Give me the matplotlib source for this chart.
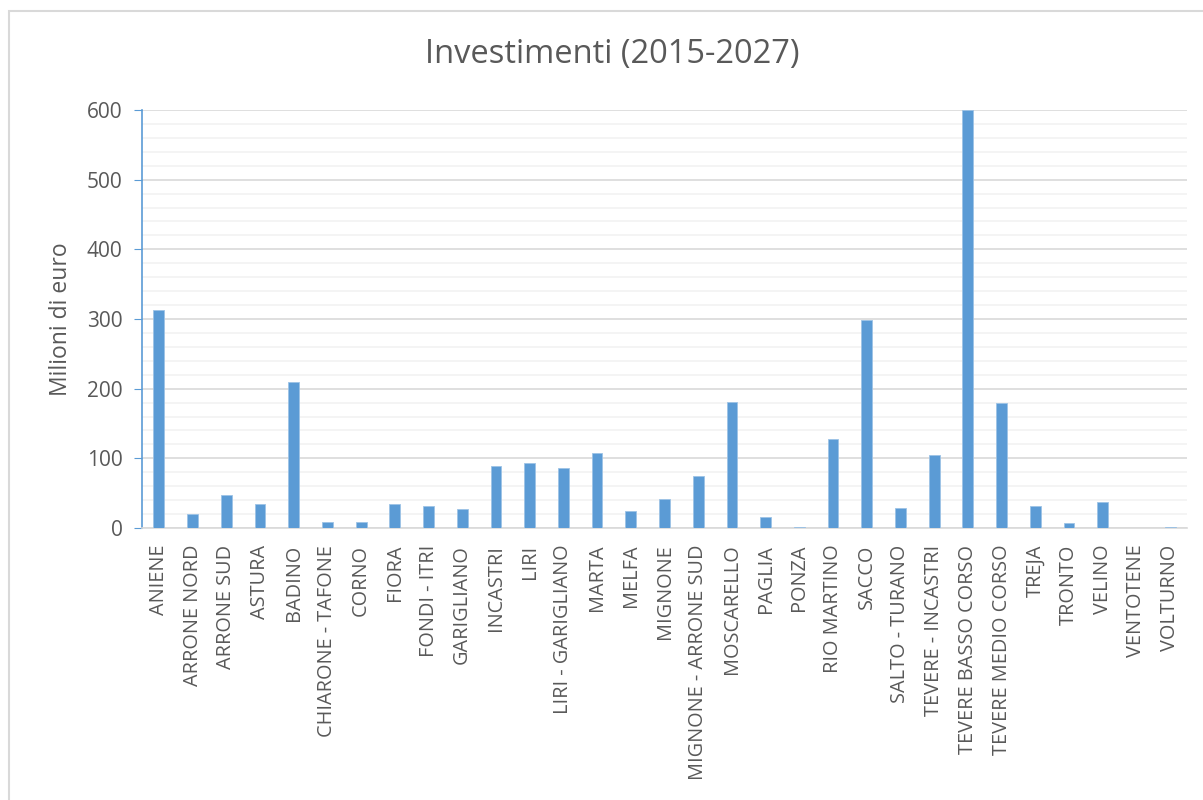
import matplotlib.pyplot as plt
from matplotlib.patches import Rectangle
from matplotlib.ticker import MultipleLocator

plt.rcParams['font.family'] = ['Open Sans', 'DejaVu Sans']

bacini = ['ANIENE', 'ARRONE NORD', 'ARRONE SUD', 'ASTURA', 'BADINO',
          'CHIARONE - TAFONE', 'CORNO', 'FIORA', 'FONDI - ITRI', 'GARIGLIANO',
          'INCASTRI', 'LIRI', 'LIRI - GARIGLIANO', 'MARTA', 'MELFA', 'MIGNONE',
          'MIGNONE - ARRONE SUD', 'MOSCARELLO', 'PAGLIA', 'PONZA', 'RIO MARTINO',
          'SACCO', 'SALTO - TURANO', 'TEVERE - INCASTRI', 'TEVERE BASSO CORSO',
          'TEVERE MEDIO CORSO', 'TREJA', 'TRONTO', 'VELINO', 'VENTOTENE', 'VOLTURNO']
investimenti = [313, 20, 47, 34, 210,
                9, 9, 35, 31, 27,
                89, 93, 86, 107, 24, 42,
                74, 181, 16, 1.5, 128,
                299, 28, 105, 600,
                179, 31, 7, 37, 0.3, 1.4]

grigio = '#595959'
blu = '#5B9BD5'

fig = plt.figure(figsize=(12.03, 8), dpi=100)
ax = fig.add_axes([142 / 1203, 1 - 528 / 800, (1187 - 142) / 1203, (528 - 110) / 800])

# chart area border (cropped on the right and bottom)
fig.patches.append(Rectangle((9 / 1203, -0.1), 1.2, 1 - 11 / 800 + 0.1,
                             transform=fig.transFigure, fill=False,
                             edgecolor='#D9D9D9', linewidth=1.5))

x = range(len(bacini))
ax.bar(x, investimenti, width=0.32, color=blu, edgecolor='#9DC3E6', linewidth=0.6, zorder=3)

ax.set_xlim(-0.5, len(bacini) - 0.5)
ax.set_ylim(0, 600)
ax.yaxis.set_major_locator(MultipleLocator(100))
ax.yaxis.set_minor_locator(MultipleLocator(20))
ax.grid(axis='y', which='major', color='#D9D9D9', linewidth=1.2, zorder=0)
ax.grid(axis='y', which='minor', color='#F2F2F2', linewidth=1.2, zorder=0)

ax.set_xticks(list(x))
ax.set_xticklabels(bacini, rotation=90, fontsize=14.3, color=grigio)
ax.tick_params(axis='x', length=0, pad=12)
ax.tick_params(axis='y', which='major', length=6, color=blu, labelsize=15, labelcolor=grigio, pad=8)
ax.tick_params(axis='y', which='minor', length=0)

for s in ['top', 'right']:
    ax.spines[s].set_visible(False)
ax.spines['left'].set_color(blu)
ax.spines['left'].set_linewidth(1.2)
ax.spines['bottom'].set_color('#D9D9D9')
ax.spines['bottom'].set_linewidth(1.2)

ax.set_ylabel('Milioni di euro', fontsize=16.5, color=grigio, labelpad=10)
fig.text(612 / 1203, 1 - 54 / 800, 'Investimenti (2015-2027)', fontsize=23.5,
         color=grigio, ha='center', va='center')

fig.savefig('out.png', dpi=100, facecolor='white')
